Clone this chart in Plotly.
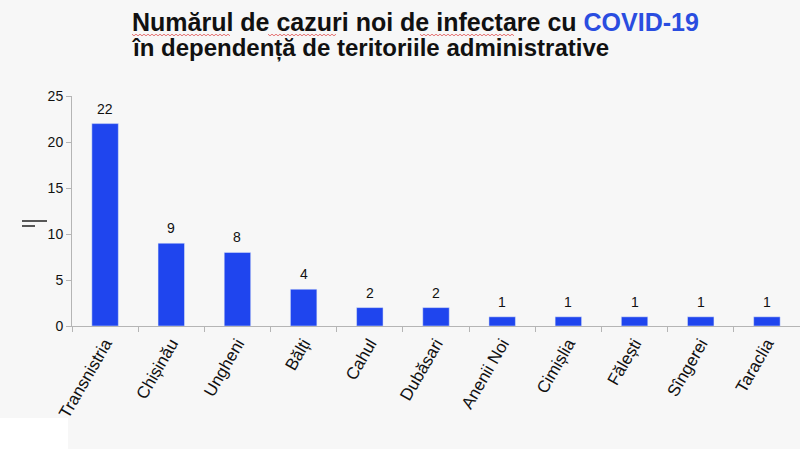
import plotly.graph_objects as go

categories = ["Transnistria", "Chișinău", "Ungheni", "Bălți", "Cahul", "Dubăsari",
              "Anenii Noi", "Cimișlia", "Fălești", "Sîngerei", "Taraclia"]
values = [22, 9, 8, 4, 2, 2, 1, 1, 1, 1, 1]
y_ticks = [0, 5, 10, 15, 20, 25]

BG = "#f7f7f7"
BAR = "#1f45ee"
FONT = "Liberation Sans, Arial, sans-serif"

# plot area in pixels: x 72..800, y 96..326
def px(x):
    return (x - 72) / 728

def py(y):
    return (326 - y) / 230

fig = go.Figure(go.Bar(x=categories, y=values, marker_color=BAR, width=0.4))

for c, v in zip(categories, values):
    fig.add_annotation(x=c, y=v, text=str(v), showarrow=False, yshift=15,
                       yanchor="middle", font=dict(size=14, color="#111", family=FONT))

fig.update_layout(
    width=800, height=449,
    margin=dict(l=72, r=0, t=96, b=123),
    paper_bgcolor=BG, plot_bgcolor=BG,
    font=dict(family=FONT, color="#111"),
    showlegend=False,
    bargap=0.6,
)
fig.update_xaxes(
    type="category", showline=True, linecolor="#b5b5b5", linewidth=1,
    ticks="outside", tickson="boundaries", ticklen=5, tickcolor="#b5b5b5",
    tickangle=-60, tickfont=dict(size=17, color="#111"), showgrid=False,
    automargin=False,
)
fig.update_yaxes(
    range=[0, 25], tickvals=y_ticks, showline=True, linecolor="#b5b5b5", linewidth=1,
    ticks="outside", ticklen=5, tickcolor="#b5b5b5", showgrid=False, zeroline=False,
    tickfont=dict(size=14, color="#111"), automargin=False,
)

fig.add_annotation(
    text="Numărul de cazuri noi de infectare cu <span style='color:#2a4de0'>COVID-19</span>",
    xref="paper", yref="paper", x=px(130), y=py(21.5),
    xanchor="left", yanchor="middle", showarrow=False,
    font=dict(size=25, family="Liberation Sans, Arial", color="#111", weight="bold"),
)
fig.add_annotation(
    text="în dependență de teritoriile administrative",
    xref="paper", yref="paper", x=px(130), y=py(48),
    xanchor="left", yanchor="middle", showarrow=False,
    font=dict(size=24, family="Liberation Sans, Arial", color="#111", weight="bold"),
)

# red spell-check squiggles under some title words
def squiggle(x0, x1, y):
    pts = []
    x, up = x0, True
    while x <= x1:
        pts.append((px(x), py(y - 0.8 if up else y + 0.8)))
        x += 2
        up = not up
    return "M " + " L ".join(f"{a:.5f},{b:.5f}" for a, b in pts)

for x0, x1 in [(132, 230), (268, 337), (420, 515)]:
    fig.add_shape(type="path", xref="paper", yref="paper", path=squiggle(x0, x1, 35),
                  line=dict(color="#e05050", width=0.8))

# stray marks near the y axis
fig.add_shape(type="line", xref="paper", yref="paper",
              x0=px(22), x1=px(47), y0=py(221), y1=py(221),
              line=dict(color="#222", width=1.5))
fig.add_shape(type="line", xref="paper", yref="paper",
              x0=px(22), x1=px(35), y0=py(226), y1=py(226),
              line=dict(color="#222", width=1.5))
# white patch bottom-left
fig.add_shape(type="rect", xref="paper", yref="paper",
              x0=px(0), x1=px(68), y0=py(449), y1=py(418),
              fillcolor="white", line=dict(width=0), layer="below")

fig.write_html(
    "out.html",
    config={"displayModeBar": False},
    post_script="document.body.style.margin='0';document.body.style.background='#f7f7f7';",
)
